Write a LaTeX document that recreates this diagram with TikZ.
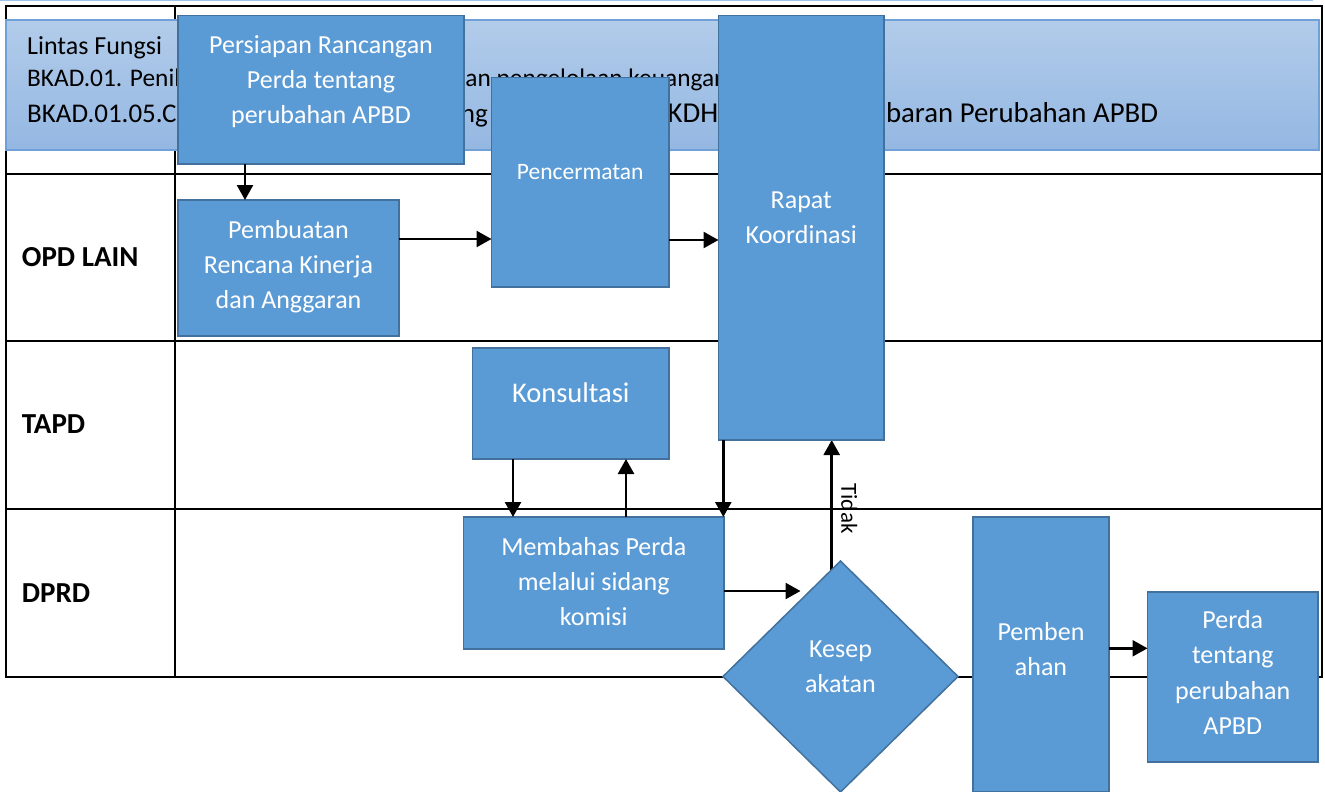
\documentclass[tikz,border=0pt]{standalone}
\usepackage{fontspec}
\setmainfont{Carlito}
\usetikzlibrary{arrows.meta,shapes.geometric,calc}
\pgfdeclarelayer{back}
\pgfdeclarelayer{mid}
\pgfsetlayers{back,mid,main}

\definecolor{boxfill}{RGB}{91,155,213}
\definecolor{boxline}{RGB}{65,113,156}
\definecolor{bandtop}{RGB}{178,204,234}
\definecolor{bandbot}{RGB}{148,183,226}
\definecolor{bandline}{RGB}{111,160,216}
\definecolor{topstrip}{RGB}{157,195,230}

\tikzset{
  flow/.style={draw=boxline, fill=boxfill, line width=1.5pt, inner sep=0pt, outer sep=0pt},
  flowtxt/.style={text=white, align=center, inner sep=0pt, font=\fontsize{26}{35}\selectfont},
  arr/.style={line width=2.5pt, -{Triangle[length=15pt,width=16pt]}},
  lane/.style={font=\bfseries\fontsize{29}{32}\selectfont, anchor=base west, inner sep=0pt},
  headtxt/.style={anchor=base west, inner sep=0pt},
  grid/.style={line width=2pt, draw=black},
}

\begin{document}
\begin{tikzpicture}[x=1pt, y=-1pt]
\useasboundingbox (0,0) rectangle (1325,792);

% swimlane table and header band
\begin{pgfonlayer}{back}
  \fill[white] (0,0) rectangle (1325,792);
  \draw[topstrip, line width=2pt] (0,0.5) -- (1313,0.5);
  \draw[grid] (6,5.7) rectangle (1321.7,677);
  \draw[grid] (175,5.7) -- (175,677);
  \foreach \yy in {173.5,340.5,508.5} \draw[grid] (6,\yy) -- (1321.7,\yy);
  \shade[top color=bandtop, bottom color=bandbot, draw=bandline, line width=1.5pt]
    (6,20) rectangle (1319,150);
  \node[headtxt, font=\fontsize{26}{30}\selectfont] (h1) at (27,55) {Lintas Fungsi};
  \node[headtxt, font=\fontsize{25.35}{30}\selectfont] (h2) at (27,86)
    {BKAD.01. Penilaian dan Pertanggungjawaban pengelolaan keuangan daerah};
  \node[headtxt, font=\fontsize{27}{30}\selectfont] (h3) at (27,122)
    {BKAD.01.05.Cek Rancangan Perda tentang Perubahan dari
     {\fontsize{28.8}{30}\selectfont KDH tentang Penjabaran Perubahan APBD}};
\end{pgfonlayer}

% lane titles
\node[lane] (opd) at (21.7,266.7) {OPD LAIN};
\node[lane] (tapd) at (21.7,433) {TAPD};
\node[lane] (dprd) at (21.7,602) {DPRD};

% process boxes
\node[flow, minimum width=286pt, minimum height=148.5pt] (persiapan) at (321,89.75) {};
\node[flowtxt] (persiapan-t) at ([yshift=8pt]persiapan.center)
  {Persiapan Rancangan\\Perda tentang\\perubahan APBD};

\node[flow, minimum width=221pt, minimum height=136pt] (pembuatan) at (288.5,268) {};
\node[flowtxt] (pembuatan-t) at ([yshift=1.5pt]pembuatan.center)
  {Pembuatan\\Rencana Kinerja\\dan Anggaran};

\node[flow, minimum width=177.5pt, minimum height=209.3pt] (pencermatan) at (580.25,182.35) {};
\node[flowtxt, font=\fontsize{23.5}{30}\selectfont] (pencermatan-t) at ([yshift=10.5pt]pencermatan.center)
  {Pencermatan};

\node[flow, minimum width=165.5pt, minimum height=424.3pt] (rapat) at (801.25,227.85) {};
\node[flowtxt] (rapat-t) at ([yshift=10pt]rapat.center) {Rapat\\Koordinasi};

\node[flow, minimum width=196.5pt, minimum height=111pt] (konsultasi) at (570.75,403.5) {};
\node[flowtxt, font=\fontsize{28.5}{34}\selectfont] (konsultasi-t) at ([yshift=11pt]konsultasi.center)
  {Konsultasi};

\node[flow, minimum width=260.5pt, minimum height=132pt] (membahas) at (593.75,583) {};
\node[flowtxt] (membahas-t) at ([yshift=1.5pt]membahas.center)
  {Membahas Perda\\melalui sidang\\komisi};

\node[flow, shape=diamond, minimum width=235pt, minimum height=231pt] (kes) at (840.5,676.5) {};
\node[flowtxt] (kes-t) at ([yshift=9.5pt]kes.center) {Kesep\\akatan};

\node[flow, minimum width=136pt, minimum height=275pt] (pemben) at (1041,654.5) {};
\node[flowtxt] (pemben-t) at ([yshift=5.5pt]pemben.center) {Pemben\\ahan};

\node[flow, minimum width=170.5pt, minimum height=170pt] (perda) at (1232.75,677) {};
\node[flowtxt, font=\fontsize{26}{35.3}\selectfont] (perda-t) at ([yshift=4.5pt]perda.center)
  {Perda\\tentang\\perubahan\\APBD};

% connectors
\draw[arr] ([xshift=67pt]persiapan.south west) coordinate (a1) -- (a1 |- pembuatan.north);
\draw[arr] ([yshift=29pt]pembuatan.east) coordinate (a2) -- (a2 -| pencermatan.west);
\draw[arr] ([yshift=-57.65pt]pencermatan.east) coordinate (a3) -- (a3 -| rapat.west);
\draw[arr] ([xshift=40.5pt]konsultasi.south west) coordinate (a4) -- (a4 |- membahas.north);
\draw[arr] ([xshift=162.5pt]membahas.north west) coordinate (a5) -- (a5 |- konsultasi.south);
\draw[arr] ([xshift=4.8pt]rapat.south west) coordinate (a6) -- (a6 |- membahas.north);
\draw[arr] ([yshift=-8pt]membahas.east) coordinate (a7) -- ($(a7 -| kes.center)+(-40,0)$);
\draw[arr] ([yshift=6.2pt]pemben.east) coordinate (a8) -- (a8 -| perda.west);

% "Tidak" branch leaves the decision from behind the diamond
\begin{pgfonlayer}{mid}
\draw[arr] ([xshift=-8.8pt]kes.center) coordinate (a9) -- (a9 |- rapat.south)
  node[pos=0.7104, rotate=-90, anchor=south, inner xsep=0pt, inner ysep=8.3pt,
       font=\fontsize{23}{28}\selectfont] (tidak) {Tidak};
\end{pgfonlayer}
\end{tikzpicture}
\end{document}
